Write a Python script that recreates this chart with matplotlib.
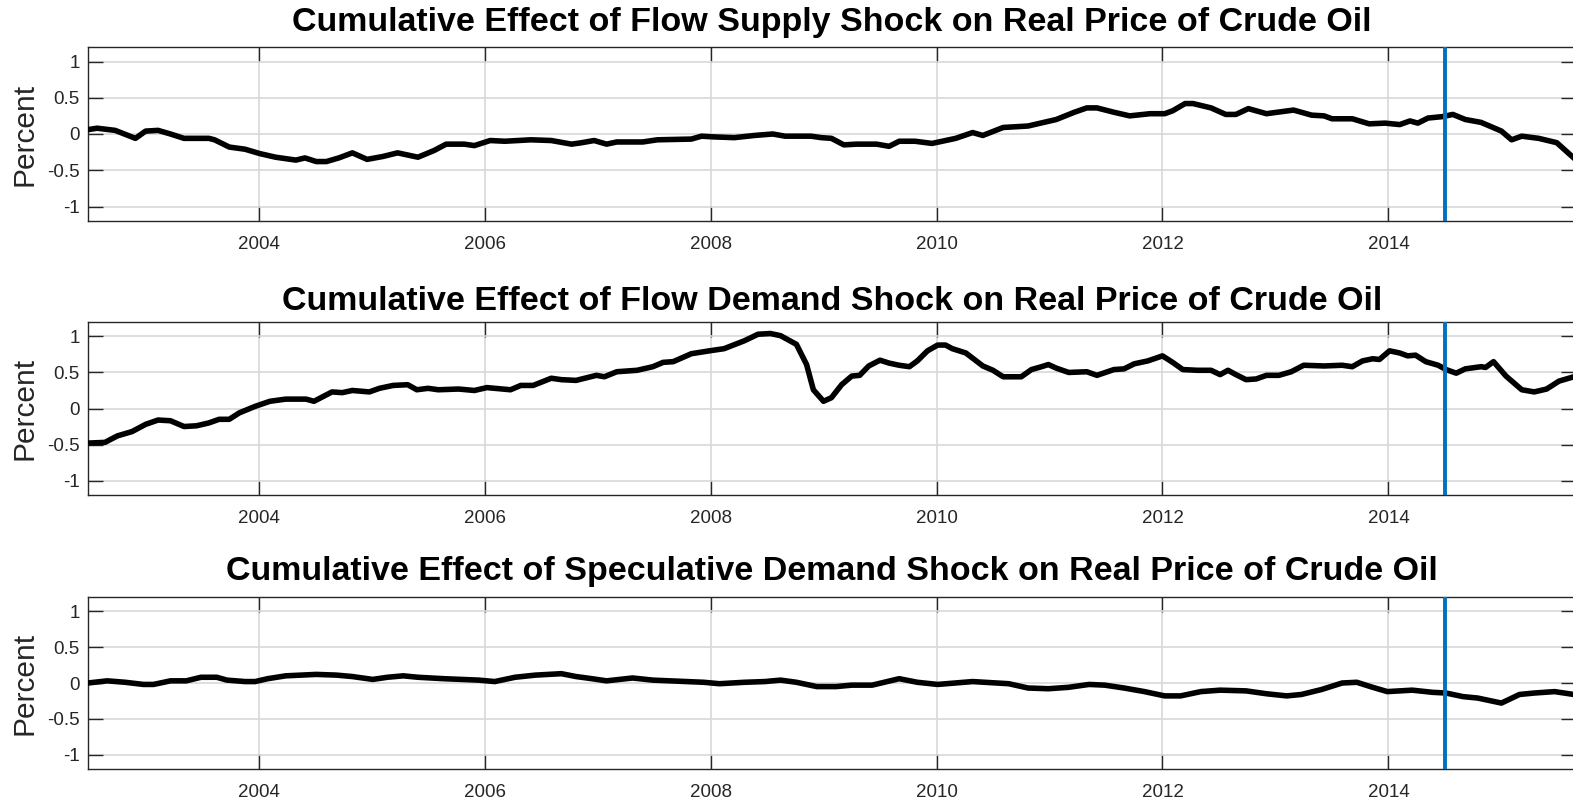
import matplotlib
matplotlib.use("Agg")
import matplotlib.pyplot as plt
import numpy as np

plt.rcParams['font.family'] = ['Liberation Sans', 'DejaVu Sans']

# decimal year / percent
supply_t = [2002.49, 2002.57, 2002.73, 2002.91, 2003.00, 2003.11, 2003.22, 2003.34, 2003.56, 2003.61,
            2003.74, 2003.88, 2004.01, 2004.15, 2004.33, 2004.41, 2004.51, 2004.60, 2004.71, 2004.83,
            2004.96, 2005.10, 2005.23, 2005.41, 2005.55, 2005.66, 2005.82, 2005.91, 2006.05, 2006.18,
            2006.41, 2006.59, 2006.77, 2006.86, 2006.97, 2007.08, 2007.17, 2007.40, 2007.53, 2007.83,
            2007.92, 2008.03, 2008.21, 2008.39, 2008.55, 2008.66, 2008.89, 2008.98, 2009.07, 2009.18,
            2009.29, 2009.47, 2009.58, 2009.67, 2009.81, 2009.96, 2010.17, 2010.32, 2010.41, 2010.59,
            2010.81, 2011.06, 2011.22, 2011.33, 2011.42, 2011.57, 2011.71, 2011.89, 2012.02, 2012.09,
            2012.20, 2012.27, 2012.43, 2012.56, 2012.65, 2012.76, 2012.92, 2013.16, 2013.32, 2013.43,
            2013.50, 2013.68, 2013.83, 2013.97, 2014.10, 2014.19, 2014.26, 2014.35, 2014.48, 2014.57,
            2014.68, 2014.82, 2015.00, 2015.09, 2015.18, 2015.33, 2015.49, 2015.64]
supply_v = [0.06, 0.08, 0.05, -0.06, 0.04, 0.05, 0.00, -0.06, -0.06, -0.08,
            -0.18, -0.21, -0.27, -0.32, -0.36, -0.33, -0.38, -0.38, -0.33, -0.26,
            -0.35, -0.31, -0.26, -0.32, -0.23, -0.14, -0.14, -0.16, -0.09, -0.10,
            -0.08, -0.09, -0.14, -0.12, -0.09, -0.14, -0.11, -0.11, -0.08, -0.07,
            -0.03, -0.04, -0.05, -0.02, 0.00, -0.03, -0.03, -0.05, -0.06, -0.15,
            -0.14, -0.14, -0.17, -0.10, -0.10, -0.13, -0.06, 0.02, -0.02, 0.09,
            0.11, 0.20, 0.30, 0.36, 0.36, 0.30, 0.25, 0.28, 0.28, 0.32,
            0.42, 0.42, 0.36, 0.27, 0.27, 0.35, 0.28, 0.33, 0.26, 0.25,
            0.21, 0.21, 0.14, 0.15, 0.13, 0.18, 0.15, 0.22, 0.24, 0.27,
            0.20, 0.16, 0.04, -0.08, -0.03, -0.06, -0.12, -0.33]

demand_t = [2002.49, 2002.64, 2002.75, 2002.88, 2003.00, 2003.11, 2003.22, 2003.34, 2003.45, 2003.56,
            2003.65, 2003.74, 2003.83, 2003.97, 2004.10, 2004.24, 2004.37, 2004.42, 2004.49, 2004.65,
            2004.74, 2004.83, 2004.98, 2005.07, 2005.19, 2005.32, 2005.40, 2005.50, 2005.59, 2005.77,
            2005.91, 2006.02, 2006.23, 2006.32, 2006.43, 2006.59, 2006.68, 2006.81, 2006.99, 2007.06,
            2007.17, 2007.35, 2007.49, 2007.58, 2007.67, 2007.83, 2007.99, 2008.12, 2008.30, 2008.42,
            2008.53, 2008.62, 2008.76, 2008.85, 2008.91, 2009.00, 2009.07, 2009.16, 2009.25, 2009.32,
            2009.40, 2009.50, 2009.58, 2009.67, 2009.76, 2009.83, 2009.92, 2010.01, 2010.08, 2010.14,
            2010.26, 2010.41, 2010.50, 2010.59, 2010.75, 2010.84, 2010.93, 2010.99, 2011.06, 2011.17,
            2011.33, 2011.42, 2011.57, 2011.66, 2011.75, 2011.87, 2012.00, 2012.09, 2012.18, 2012.31,
            2012.43, 2012.51, 2012.58, 2012.65, 2012.74, 2012.83, 2012.92, 2013.03, 2013.14, 2013.25,
            2013.43, 2013.59, 2013.68, 2013.77, 2013.86, 2013.92, 2014.01, 2014.10, 2014.17, 2014.24,
            2014.33, 2014.44, 2014.51, 2014.60, 2014.68, 2014.82, 2014.86, 2014.93, 2015.04, 2015.18,
            2015.29, 2015.40, 2015.51, 2015.64]
demand_v = [-0.48, -0.47, -0.38, -0.32, -0.22, -0.16, -0.17, -0.25, -0.24, -0.20,
            -0.15, -0.15, -0.06, 0.03, 0.10, 0.13, 0.13, 0.13, 0.10, 0.23,
            0.22, 0.25, 0.23, 0.28, 0.32, 0.33, 0.26, 0.28, 0.26, 0.27,
            0.25, 0.29, 0.26, 0.32, 0.32, 0.42, 0.40, 0.39, 0.46, 0.44,
            0.51, 0.53, 0.58, 0.64, 0.65, 0.76, 0.80, 0.83, 0.94, 1.03,
            1.04, 1.01, 0.89, 0.61, 0.26, 0.10, 0.15, 0.33, 0.45, 0.46,
            0.59, 0.67, 0.63, 0.60, 0.58, 0.66, 0.80, 0.88, 0.88, 0.83,
            0.77, 0.59, 0.53, 0.44, 0.44, 0.54, 0.58, 0.61, 0.56, 0.50,
            0.51, 0.46, 0.54, 0.55, 0.62, 0.66, 0.73, 0.64, 0.54, 0.53,
            0.53, 0.47, 0.53, 0.47, 0.40, 0.41, 0.46, 0.46, 0.51, 0.60,
            0.59, 0.60, 0.58, 0.66, 0.69, 0.68, 0.80, 0.77, 0.73, 0.74,
            0.65, 0.60, 0.54, 0.49, 0.55, 0.58, 0.57, 0.65, 0.45, 0.26,
            0.23, 0.27, 0.38, 0.44]

spec_t = [2002.49, 2002.66, 2002.82, 2002.98, 2003.07, 2003.22, 2003.36, 2003.49, 2003.63, 2003.72,
          2003.88, 2003.97, 2004.08, 2004.24, 2004.51, 2004.69, 2004.83, 2005.01, 2005.14, 2005.28,
          2005.41, 2005.64, 2005.95, 2006.09, 2006.27, 2006.45, 2006.68, 2006.81, 2006.95, 2007.08,
          2007.31, 2007.49, 2007.94, 2008.08, 2008.30, 2008.48, 2008.62, 2008.76, 2008.94, 2009.11,
          2009.25, 2009.43, 2009.67, 2009.83, 2010.01, 2010.32, 2010.64, 2010.81, 2010.99, 2011.17,
          2011.35, 2011.49, 2011.66, 2011.84, 2012.02, 2012.16, 2012.34, 2012.51, 2012.74, 2012.92,
          2013.10, 2013.23, 2013.41, 2013.59, 2013.72, 2013.86, 2013.99, 2014.21, 2014.39, 2014.51,
          2014.66, 2014.79, 2015.00, 2015.16, 2015.29, 2015.47, 2015.64]
spec_v = [0.00, 0.03, 0.01, -0.02, -0.02, 0.03, 0.03, 0.08, 0.08, 0.04,
          0.02, 0.02, 0.06, 0.10, 0.12, 0.11, 0.09, 0.05, 0.08, 0.10,
          0.08, 0.06, 0.04, 0.02, 0.08, 0.11, 0.13, 0.09, 0.06, 0.03,
          0.07, 0.04, 0.01, -0.01, 0.01, 0.02, 0.04, 0.01, -0.05, -0.05,
          -0.03, -0.03, 0.06, 0.01, -0.02, 0.02, -0.01, -0.07, -0.08, -0.06,
          -0.02, -0.03, -0.07, -0.12, -0.18, -0.18, -0.12, -0.10, -0.11, -0.15,
          -0.18, -0.16, -0.09, 0.00, 0.01, -0.06, -0.12, -0.10, -0.13, -0.14,
          -0.19, -0.21, -0.28, -0.16, -0.14, -0.12, -0.16]

titles = ["Cumulative Effect of Flow Supply Shock on Real Price of Crude Oil",
          "Cumulative Effect of Flow Demand Shock on Real Price of Crude Oil",
          "Cumulative Effect of Speculative Demand Shock on Real Price of Crude Oil"]
series = [(supply_t, supply_v), (demand_t, demand_v), (spec_t, spec_v)]
yticks = [-1, -0.5, 0, 0.5, 1]
ytick_labels = ["-1", "-0.5", "0", "0.5", "1"]
xticks = [2004, 2006, 2008, 2010, 2012, 2014]
marker_year = 2014.5

W, H = 1573, 802
fig = plt.figure(figsize=(W / 100, H / 100), dpi=100)

# axes boxes in pixels: (top, bottom), and title baselines
boxes = [(47, 221), (322, 495), (597, 769)]
title_base = [31, 310, 580]
left_px, right_px = 88, 1576
dark = "#262626"

for (top, bot), tb, title, (t, v) in zip(boxes, title_base, titles, series):
    ax = fig.add_axes([left_px / W, 1 - bot / H, (right_px - left_px) / W, (bot - top) / H])
    ax.plot(t, v, color="black", lw=4.0, solid_joinstyle="round", zorder=3)
    ax.axvline(marker_year, color="#0072BD", lw=2.8, zorder=4)
    ax.set_xlim(2002.49, 2015.66)
    ax.set_ylim(-1.2, 1.2)
    ax.set_yticks(yticks)
    ax.set_yticklabels(ytick_labels)
    ax.set_xticks(xticks)
    ax.grid(True, color="#d8d8d8", lw=1.2)
    ax.set_axisbelow(True)
    ax.tick_params(direction="in", length=11, width=1, colors=dark, labelsize=13.5,
                   top=True, right=True)
    ax.tick_params(axis="x", pad=10.5)
    ax.tick_params(axis="y", pad=6)
    for s in ax.spines.values():
        s.set_color(dark)
        s.set_linewidth(1.0)
    fig.text((left_px + right_px) / 2 / W, 1 - tb / H, title, fontsize=24.5,
             fontweight="bold", color="black", ha="center", va="baseline")
    ax.set_ylabel("Percent", fontsize=21.5, color=dark)
    ax.yaxis.set_label_coords(-0.033, 0.5)

fig.savefig("out.png", dpi=100)
